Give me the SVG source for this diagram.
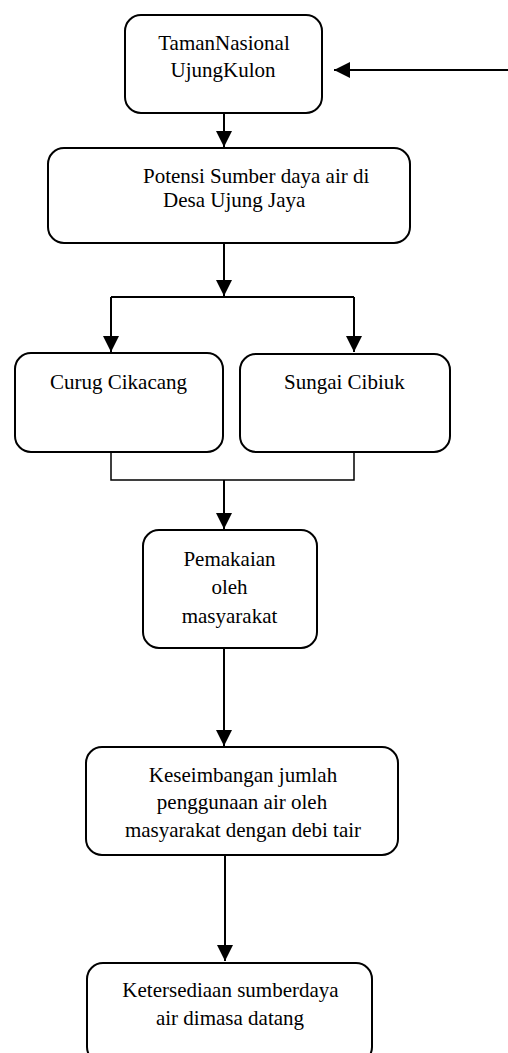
<svg xmlns="http://www.w3.org/2000/svg" width="508" height="1053" viewBox="0 0 508 1053">
<style>
.box{fill:#fff;stroke:#000;stroke-width:2}
.t{font-family:"Liberation Serif","Times New Roman",serif;font-size:21px;fill:#000}
.c{text-anchor:middle}
.ln{fill:none;stroke:#000;stroke-width:2}
.thin{fill:none;stroke:#000;stroke-width:1.5}
</style>
<defs>
<marker id="ah" markerUnits="userSpaceOnUse" markerWidth="16" markerHeight="16" viewBox="0 0 16 16" refX="16" refY="8" orient="auto">
<path d="M0,0 L16,8 L0,16 Z" fill="#000"/>
</marker>
</defs>
<rect width="508" height="1053" fill="#fff"/>
<g id="connectors">
<line class="ln" x1="508" y1="70" x2="334" y2="70" marker-end="url(#ah)"/>
<line class="ln" x1="224" y1="113" x2="224" y2="147" marker-end="url(#ah)"/>
<line class="ln" x1="224" y1="243" x2="224" y2="296" marker-end="url(#ah)"/>
<path class="ln" d="M111,297 H354"/>
<line class="ln" x1="111" y1="297" x2="111" y2="352" marker-end="url(#ah)"/>
<line class="ln" x1="354" y1="297" x2="354" y2="352" marker-end="url(#ah)"/>
<path class="thin" d="M111,452 V480 H354 V452"/>
<line class="ln" x1="224" y1="480" x2="224" y2="529" marker-end="url(#ah)"/>
<line class="ln" x1="224" y1="648" x2="224" y2="746" marker-end="url(#ah)"/>
<line class="ln" x1="225" y1="855" x2="225" y2="961" marker-end="url(#ah)"/>
</g>
<g id="n1">
<rect class="box" x="125" y="15" width="197" height="98" rx="16"/>
<text class="t c" x="224" y="50">TamanNasional</text>
<text class="t c" x="223" y="77">UjungKulon</text>
</g>
<g id="n2">
<rect class="box" x="48" y="148" width="362" height="95" rx="16"/>
<text class="t" x="143" y="183">Potensi Sumber daya air di</text>
<text class="t" x="163" y="207">Desa Ujung Jaya</text>
</g>
<g id="n3">
<rect class="box" x="15" y="353" width="208" height="99" rx="16"/>
<text class="t" x="50" y="389">Curug Cikacang</text>
</g>
<g id="n4">
<rect class="box" x="240" y="354" width="210" height="98" rx="16"/>
<text class="t" x="284" y="389">Sungai Cibiuk</text>
</g>
<g id="n5">
<rect class="box" x="143" y="530" width="174" height="118" rx="16"/>
<text class="t c" x="229.5" y="566">Pemakaian</text>
<text class="t c" x="229.5" y="594">oleh</text>
<text class="t c" x="229.5" y="623">masyarakat</text>
</g>
<g id="n6">
<rect class="box" x="86" y="747" width="312" height="108" rx="16"/>
<text class="t c" x="243" y="782">Keseimbangan jumlah</text>
<text class="t c" x="242" y="809">penggunaan air oleh</text>
<text class="t c" x="243" y="837">masyarakat dengan debi tair</text>
</g>
<g id="n7">
<rect class="box" x="87" y="963" width="285" height="100" rx="16"/>
<text class="t c" x="230.5" y="997">Ketersediaan sumberdaya</text>
<text class="t c" x="230" y="1025">air dimasa datang</text>
</g>
</svg>
